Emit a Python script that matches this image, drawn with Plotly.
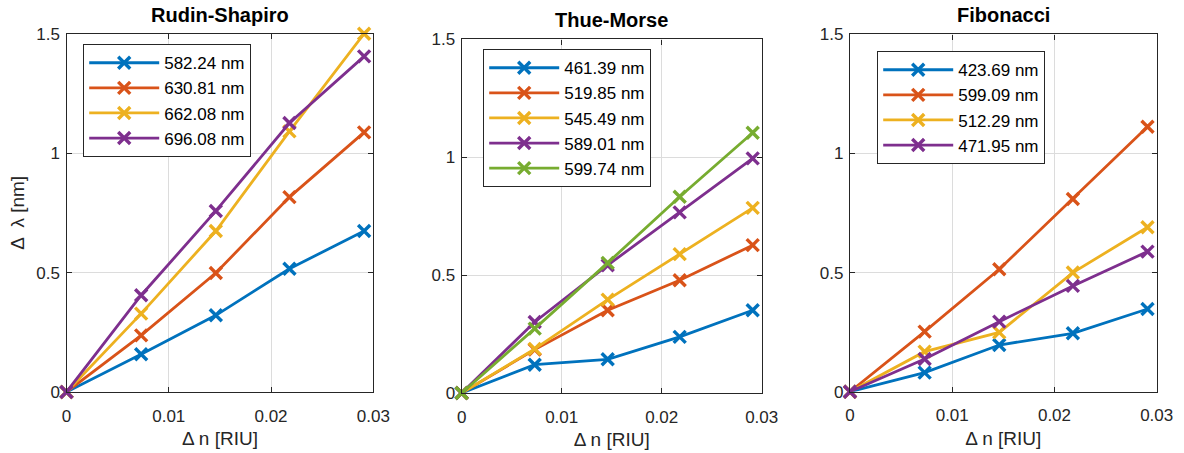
import plotly.graph_objects as go

# Refractive-index change (RIU) sampled for every structure
delta_n = [0, 0.0073, 0.0146, 0.0218, 0.0291]

# Rudin-Shapiro resonance shifts (nm)
rs_labels = ["582.24 nm", "630.81 nm", "662.08 nm", "696.08 nm"]
rs_582 = [0, 0.158, 0.321, 0.516, 0.674]
rs_630 = [0, 0.237, 0.498, 0.816, 1.087]
rs_662 = [0, 0.328, 0.674, 1.091, 1.500]
rs_696 = [0, 0.405, 0.758, 1.126, 1.405]

# Thue-Morse resonance shifts (nm)
tm_labels = ["461.39 nm", "519.85 nm", "545.49 nm", "589.01 nm", "599.74 nm"]
tm_461 = [0, 0.120, 0.143, 0.238, 0.351]
tm_519 = [0, 0.184, 0.351, 0.478, 0.627]
tm_545 = [0, 0.187, 0.396, 0.589, 0.785]
tm_589 = [0, 0.301, 0.542, 0.766, 0.995]
tm_599 = [0, 0.273, 0.552, 0.832, 1.104]

# Fibonacci resonance shifts (nm)
fb_labels = ["423.69 nm", "599.09 nm", "512.29 nm", "471.95 nm"]
fb_423 = [0, 0.080, 0.196, 0.245, 0.347]
fb_599 = [0, 0.252, 0.514, 0.809, 1.112]
fb_512 = [0, 0.168, 0.249, 0.500, 0.690]
fb_471 = [0, 0.137, 0.294, 0.444, 0.588]

titles = ["Rudin-Shapiro", "Thue-Morse", "Fibonacci"]
x_ticks = [0, 0.01, 0.02, 0.03]
x_tick_text = ["0", "0.01", "0.02", "0.03"]
y_ticks = [0, 0.5, 1, 1.5]
y_tick_text = ["0", "0.5", "1", "1.5"]

colors = ["#0072BD", "#D95319", "#EDB120", "#7E2F8E", "#77AC30"]
W, H = 1184, 453
FONT = "Liberation Sans, Arial, sans-serif"
INK = "#262626"

# Axes boxes in pixels: (left, right, top, bottom)
boxes = [(66.5, 373.3, 33.7, 392.0),
         (461.7, 761.7, 39.3, 393.0),
         (850.0, 1156.7, 34.3, 391.7)]
# Legend top-left corners in pixels
legend_pos = [(83, 44), (483, 49), (877, 51)]

panels = [
    (rs_labels, [rs_582, rs_630, rs_662, rs_696]),
    (tm_labels, [tm_461, tm_519, tm_545, tm_589, tm_599]),
    (fb_labels, [fb_423, fb_599, fb_512, fb_471]),
]

fig = go.Figure()
layout = dict(
    width=W, height=H,
    margin=dict(l=0, r=0, t=0, b=0, autoexpand=False),
    paper_bgcolor="white", plot_bgcolor="white",
    font=dict(family=FONT, size=17, color=INK),
    annotations=[],
)

for p, (labels, series) in enumerate(panels):
    k = "" if p == 0 else str(p + 1)
    xa, ya = "x" + k, "y" + k
    leg = "legend" + k
    for i, (lab, vals) in enumerate(zip(labels, series)):
        fig.add_trace(go.Scatter(
            x=delta_n, y=vals, name=lab, mode="lines+markers",
            xaxis=xa, yaxis=ya, legend=leg, cliponaxis=False,
            line=dict(color=colors[i], width=2.8),
            marker=dict(symbol="x-thin", size=12,
                        line=dict(color=colors[i], width=3.4)),
        ))
    l, r, t, b = boxes[p]
    axis_common = dict(
        showline=True, linecolor=INK, linewidth=1.4, mirror="ticks",
        ticks="inside", ticklen=5, tickcolor=INK, tickwidth=1.2,
        showgrid=True, gridcolor="#dcdcdc", gridwidth=1.2,
        zeroline=False, automargin=False,
        tickfont=dict(family=FONT, size=17, color=INK),
    )
    layout["xaxis" + k] = dict(
        axis_common, domain=[l / W, r / W], anchor=ya,
        range=[0, 0.03], tickvals=x_ticks, ticktext=x_tick_text,
        ticklabelstandoff=8,
        title=dict(text="\u0394 n [RIU]", font=dict(size=19, color=INK), standoff=7),
    )
    layout["yaxis" + k] = dict(
        axis_common, domain=[1 - b / H, 1 - t / H], anchor=xa,
        range=[0, 1.5], tickvals=y_ticks, ticktext=y_tick_text,
        ticklabelstandoff=2,
    )
    if p == 0:
        layout["yaxis"]["title"] = dict(text="\u0394  \u03bb [nm]",
                                        font=dict(size=19, color=INK), standoff=6)
    lx, ly = legend_pos[p]
    layout[leg] = dict(
        x=lx / W, y=1 - ly / H, xanchor="left", yanchor="top",
        xref="paper", yref="paper",
        bgcolor="white", bordercolor=INK, borderwidth=1.2,
        font=dict(family=FONT, size=17, color="#000000"),
        itemwidth=70, tracegroupgap=0,
    )
    layout["annotations"].append(dict(
        text="<b>" + titles[p] + "</b>", x=(l + r) / 2 / W, y=1 - (t - 6) / H,
        xref="paper", yref="paper", xanchor="center", yanchor="bottom",
        showarrow=False, font=dict(family=FONT, size=20, color="#000000"),
    ))

fig.update_layout(**layout)
fig.write_html("out.html")
